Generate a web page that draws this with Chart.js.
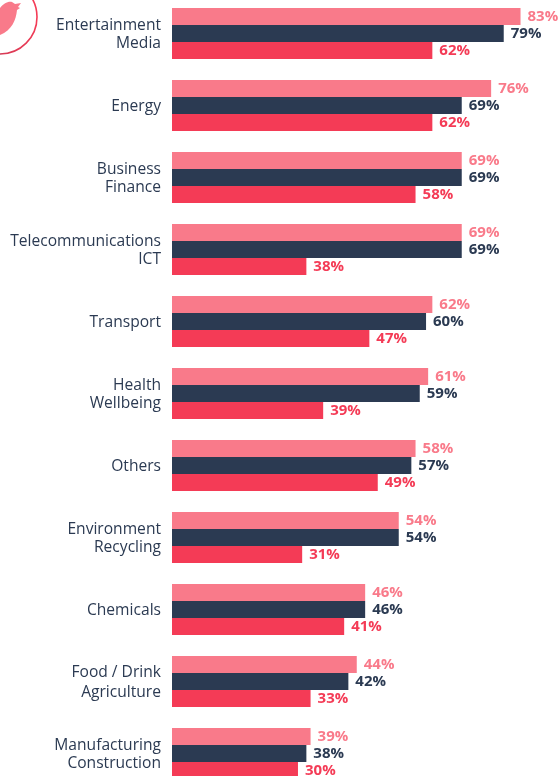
<!DOCTYPE html>
<html>
<head>
<meta charset="utf-8">
<script src="https://cdn.jsdelivr.net/npm/chart.js@4"></script>
<style>
    html, body { margin: 0; padding: 0; background: #fff; overflow: hidden; }
    #wrap { position: absolute; left: 0; top: -10px; width: 560px; height: 800px; }
    #icon { position: absolute; left: 0; top: 0; }
</style>
</head>
<body>
<div id="wrap"><canvas id="chart"></canvas></div>
<svg id="icon" width="50" height="60" viewBox="0 0 50 60">
    <defs>
        <linearGradient id="ring" x1="0.9" y1="0.4" x2="0.1" y2="1">
            <stop offset="0" stop-color="#f43b56"/>
            <stop offset="0.65" stop-color="#d93a55"/>
            <stop offset="1" stop-color="#2b3a52"/>
        </linearGradient>
    </defs>
    <circle cx="0" cy="17" r="37" fill="none" stroke="url(#ring)" stroke-width="1.6"/>
    <path d="M0 8 C3 4 8 1 12 2 L15 4 L21 3 L18 7 L20 8 L17 10 C16 20 12 30 0 35 Z" fill="#f97a8a"/>
</svg>
<script>
const categories = [
    ['Entertainment', 'Media'],
    'Energy',
    ['Business', 'Finance'],
    ['Telecommunications', 'ICT'],
    'Transport',
    ['Health', 'Wellbeing'],
    'Others',
    ['Environment', 'Recycling'],
    'Chemicals',
    ['Food / Drink', 'Agriculture'],
    ['Manufacturing', 'Construction']
];

// bar lengths as drawn in the picture
const pinkValues = [83, 76, 69, 69, 62, 61, 58, 54, 46, 44, 33];
const navyValues = [79, 69, 69, 69, 60.5, 59, 57, 54, 46, 42, 32];
const redValues = [62, 62, 58, 32, 47, 36, 49, 31, 41, 33, 30];

// printed labels, a few of these differ from the drawn bar
const pinkLabels = [83, 76, 69, 69, 62, 61, 58, 54, 46, 44, 39];
const navyLabels = [79, 69, 69, 69, 60, 59, 57, 54, 46, 42, 38];
const redLabels = [62, 62, 58, 38, 47, 39, 49, 31, 41, 33, 30];

const PINK = '#f97a8a';
const NAVY = '#2b3a52';
const RED = '#f43b56';

// percent labels at the end of each bar
const barLabels = {
    id: 'barLabels',
    afterDatasetsDraw(chart) {
        const ctx = chart.ctx;
        ctx.save();
        ctx.font = "bold 15px 'Open Sans'";
        ctx.textAlign = 'left';
        ctx.textBaseline = 'middle';
        chart.data.datasets.forEach((ds, i) => {
            ctx.fillStyle = ds.backgroundColor;
            chart.getDatasetMeta(i).data.forEach((bar, j) => {
                ctx.fillText(ds.printed[j] + '%', bar.x + 7, bar.y + 0.5);
            });
        });
        ctx.restore();
    }
};

new Chart(document.getElementById('chart').getContext('2d'), {
    type: 'bar',
    data: {
        labels: categories,
        datasets: [
            { label: 'Pink', data: pinkValues, printed: pinkLabels, backgroundColor: PINK },
            { label: 'Navy', data: navyValues, printed: navyLabels, backgroundColor: NAVY },
            { label: 'Red', data: redValues, printed: redLabels, backgroundColor: RED }
        ]
    },
    options: {
        indexAxis: 'y',
        responsive: true,
        maintainAspectRatio: false,
        animation: false,
        layout: { padding: { top: 7.5, bottom: 0.5, left: 0, right: 0 } },
        datasets: { bar: { categoryPercentage: 0.71, barPercentage: 1 } },
        scales: {
            x: { display: false, min: 0, max: 92.4 },
            y: {
                afterFit(scale) {
                    scale.width = 172;
                    scale.paddingTop = 0;
                    scale.paddingBottom = 0;
                },
                border: { display: false },
                grid: { display: false, drawTicks: false },
                ticks: {
                    color: NAVY,
                    padding: 11,
                    labelOffset: 1,
                    font: c => ({
                        family: "'Open Sans'",
                        size: 15.6,
                        lineHeight: c.index === 9 ? 1.34 : 1.16
                    })
                }
            }
        },
        plugins: {
            legend: { display: false },
            tooltip: { enabled: false }
        }
    },
    plugins: [barLabels]
});
</script>
</body>
</html>
